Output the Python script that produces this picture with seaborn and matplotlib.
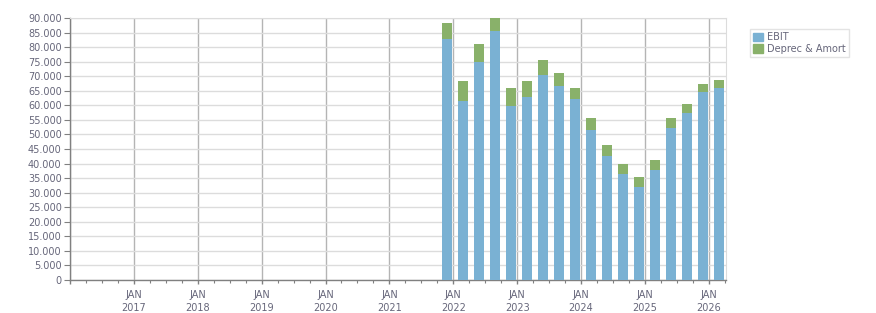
import matplotlib
matplotlib.use("Agg")
import matplotlib.pyplot as plt
from matplotlib.ticker import FuncFormatter, MultipleLocator, FixedLocator
from matplotlib.patches import Patch
import numpy as np
import pandas as pd
import seaborn as sns

# quarter positions (decimal years) and values
quarters = [2021.906 + 0.25 * i for i in range(18)]
ebit = [82.9, 61.5, 75.0, 85.7, 59.7, 63.0, 70.5, 66.7, 62.2,
        51.4, 42.5, 36.5, 31.8, 37.9, 52.2, 57.5, 64.7, 65.8]
deprec = [5.5, 6.7, 6.1, 4.2, 6.1, 5.2, 5.0, 4.4, 3.9,
          4.1, 4.0, 3.3, 3.6, 3.2, 3.3, 3.0, 2.8, 2.9]
years = [2016, 2017, 2018, 2019, 2020, 2021, 2022, 2023, 2024, 2025, 2026]
series_names = ["EBIT", "Deprec & Amort"]

blue = "#7ab1d3"
green = "#89b16a"
text_col = "#66667a"

df = pd.DataFrame({"pos": quarters,
                   "ebit": np.array(ebit) * 1000,
                   "total": (np.array(ebit) + np.array(deprec)) * 1000})

fig = plt.figure(figsize=(8.76, 3.13), dpi=100)
ax = fig.add_axes([70 / 876, 1 - 280 / 313, 656 / 876, 262 / 313])

sns.barplot(data=df, x="pos", y="total", native_scale=True, width=0.625,
            color=green, saturation=1, errorbar=None, ax=ax, zorder=3)
sns.barplot(data=df, x="pos", y="ebit", native_scale=True, width=0.625,
            color=blue, saturation=1, errorbar=None, ax=ax, zorder=4)

ax.set_xlim(2016.0, 2026.27)
ax.set_ylim(0, 90000)
ax.set_xlabel("")
ax.set_ylabel("")

ax.yaxis.set_major_locator(MultipleLocator(5000))
ax.yaxis.set_major_formatter(FuncFormatter(lambda v, p: f"{v:,.0f}".replace(",", ".")))
ax.xaxis.set_major_locator(FixedLocator(years))
ax.set_xticklabels(["JAN\n" + str(y) if y > 2016 else "" for y in years])
ax.xaxis.set_minor_locator(MultipleLocator(0.25))

ax.set_axisbelow(True)
ax.grid(axis="y", color="#dcdcdc", linewidth=1, zorder=0)
ax.grid(axis="x", which="major", color="#b4b4b4", linewidth=1, zorder=1)

ax.tick_params(axis="y", labelsize=7, colors="#808080", labelcolor=text_col,
               length=4, width=0.8, pad=2)
ax.tick_params(axis="x", which="major", labelsize=7, colors="#808080",
               labelcolor=text_col, length=3, width=1, pad=4)
ax.tick_params(axis="x", which="minor", colors="#808080", length=2.5, width=0.8)
for lbl in ax.get_xticklabels():
    lbl.set_linespacing(1.4)

for s in ["left", "bottom"]:
    ax.spines[s].set_color("#808080")
    ax.spines[s].set_linewidth(1)
ax.spines["top"].set_color("#dcdcdc")
ax.spines["right"].set_color("#dcdcdc")

handles = [Patch(facecolor=blue, edgecolor=blue), Patch(facecolor=green, edgecolor=green)]
leg = fig.legend(handles, series_names, loc="upper left",
                 bbox_to_anchor=(750 / 876, 1 - 29 / 313), frameon=True,
                 fancybox=False, edgecolor="#dcdcdc", fontsize=7,
                 handlelength=1.0, handleheight=1.0, labelspacing=0.15,
                 borderpad=0.35, handletextpad=0.35, borderaxespad=0)
for t in leg.get_texts():
    t.set_color(text_col)

plt.savefig("out.png", dpi=100)
